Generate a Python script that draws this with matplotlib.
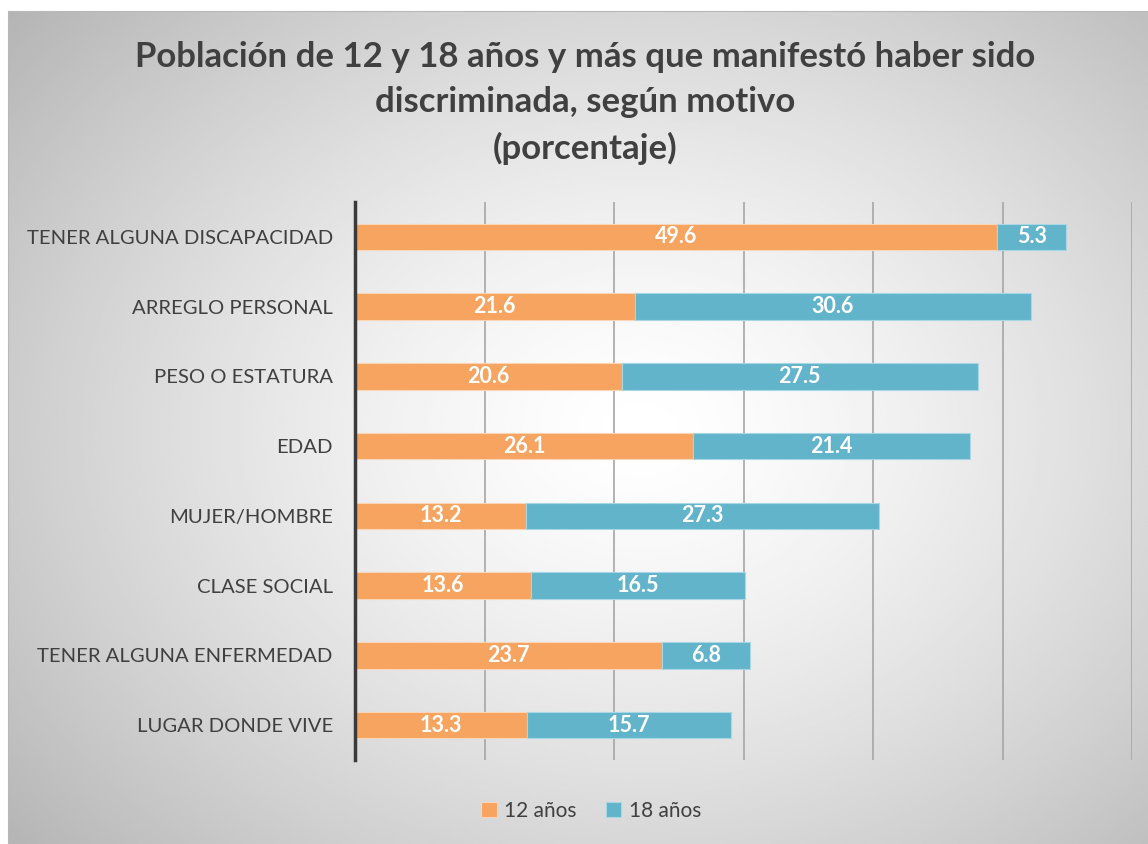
import numpy as np
import matplotlib.pyplot as plt

# data
categories = ["TENER ALGUNA DISCAPACIDAD", "ARREGLO PERSONAL", "PESO O ESTATURA", "EDAD",
              "MUJER/HOMBRE", "CLASE SOCIAL", "TENER ALGUNA ENFERMEDAD", "LUGAR DONDE VIVE"]
edad_12 = [49.6, 21.6, 20.6, 26.1, 13.2, 13.6, 23.7, 13.3]
edad_18 = [5.3, 30.6, 27.5, 21.4, 27.3, 16.5, 6.8, 15.7]
series_names = ["12 años", "18 años"]

ORANGE = "#F6A45F"
TEAL = "#62B4CB"
TXT = "#404040"
plt.rcParams['font.family'] = ['Lato', 'DejaVu Sans']

W, H = 1148, 844
fig = plt.figure(figsize=(W / 100, H / 100), dpi=100)

# radial grey background of the chart area
bg = fig.add_axes([8 / W, 0, 1 - 8 / W, (H - 11) / H], zorder=-5)
gx, gy = np.meshgrid(np.linspace(8, W, 400), np.linspace(11, H, 300))
r = np.hypot((gx - 640) / 720, (gy - 430) / 560)
shade = 1 - 0.24 * np.clip(r, 0, 1.2) ** 1.4
bg.imshow(shade, cmap="gray", vmin=0, vmax=1, aspect="auto",
          extent=[0, 1, 0, 1], interpolation="bilinear")
bg.set_xlim(0, 1)
bg.set_ylim(0, 1)
for s in bg.spines.values():
    s.set_visible(False)
bg.spines['left'].set_visible(True)
bg.spines['top'].set_visible(True)
bg.spines['left'].set_color("#b8b8b8")
bg.spines['top'].set_color("#b8b8b8")
bg.set_xticks([])
bg.set_yticks([])

ax = fig.add_axes([355 / W, 1 - 760 / H, (1132 - 355) / W, (760 - 202) / H])
ax.patch.set_alpha(0)

y = np.arange(len(categories))
b1 = ax.barh(y, edad_12, height=0.38, color=ORANGE, edgecolor="#fbd5b5",
             linewidth=0.8, label=series_names[0], zorder=3)
b2 = ax.barh(y, edad_18, left=edad_12, height=0.38, color=TEAL, edgecolor="#a9d6e3",
             linewidth=0.8, label=series_names[1], zorder=3)

for bars in (b1, b2):
    for bar in bars:
        w = bar.get_width()
        ax.text(bar.get_x() + w / 2, bar.get_y() + bar.get_height() / 2, f"{w:.1f}",
                ha="center", va="center", color="white", fontsize=15.5,
                fontweight="bold", zorder=4)

ax.set_xlim(0, 60)
ax.set_ylim(len(categories) - 0.5, -0.5)
ax.set_xticks(np.arange(0, 61, 10))
ax.set_xticklabels([])
ax.tick_params(axis="x", length=0)
ax.grid(axis="x", color="#a6a6a6", linewidth=1.2, zorder=0)
ax.set_yticks(y)
ax.set_yticklabels(categories, fontsize=14.6, color=TXT)
ax.tick_params(axis="y", length=0, pad=16)
for s in ("top", "right", "bottom"):
    ax.spines[s].set_visible(False)
ax.spines["left"].set_color("#3a3a3a")
ax.spines["left"].set_linewidth(2.5)
ax.spines["left"].set_zorder(5)

fig.text(0.51, 1 - 103 / H,
         "Población de 12 y 18 años y más que manifestó haber sido\n"
         "discriminada, según motivo\n(porcentaje)",
         ha="center", va="center", fontsize=25, fontweight="bold", color=TXT,
         linespacing=1.5, transform=fig.transFigure)

fig.legend(handles=[b1, b2], labels=series_names, loc="center",
           bbox_to_anchor=(0.515, 1 - 811 / H), ncol=2, frameon=False,
           fontsize=15, labelcolor=TXT, handlelength=0.75, handleheight=0.75,
           handletextpad=0.35, columnspacing=1.4)

fig.savefig("out.png", dpi=100)
